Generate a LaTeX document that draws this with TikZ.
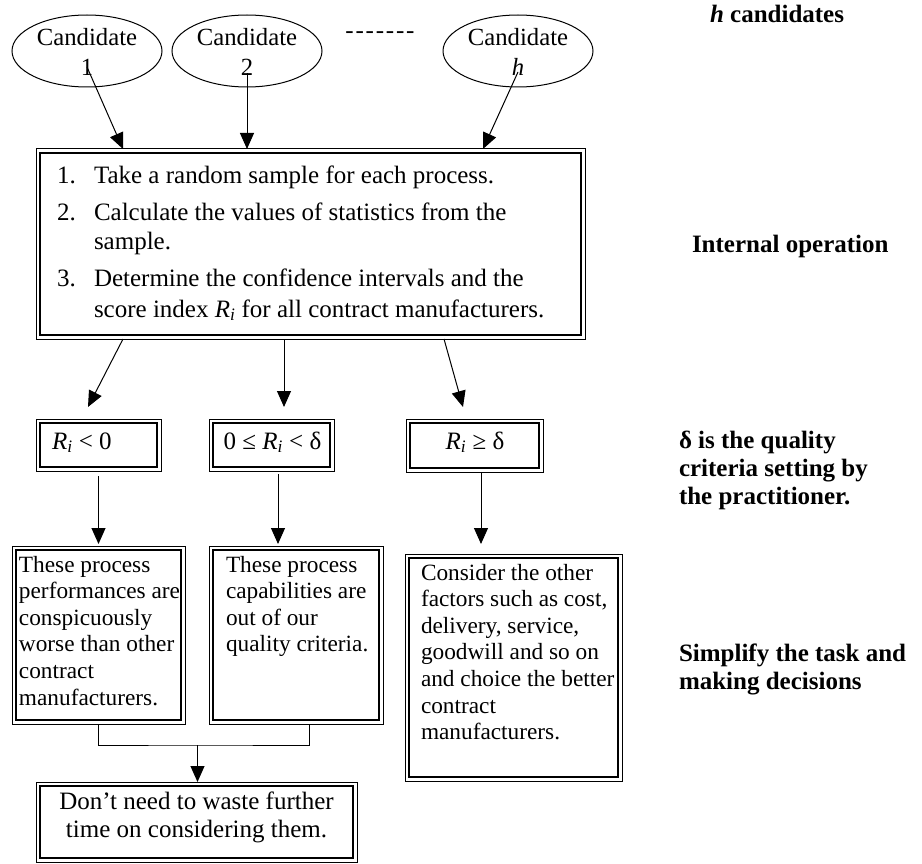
\documentclass[tikz,border=0pt]{standalone}
\usepackage{fontspec}
\setmainfont{Liberation Serif}
\usetikzlibrary{arrows.meta,shapes.geometric,calc}
\begin{document}
\begin{tikzpicture}[x=1pt,y=-1pt,
  every node/.style={inner sep=0pt, outer sep=0pt},
  obox/.style={draw, line width=1pt, rectangle, inner sep=0pt},
  cand/.style={draw, ellipse, line width=1pt, minimum width=150pt, minimum height=72pt, inner sep=0pt},
  ctext/.style={font=\fontsize{24.7}{30}\selectfont, align=center},
  big/.style={font=\fontsize{25}{30}\selectfont},
  mid/.style={font=\fontsize{23.3}{26.6}\selectfont},
  lab/.style={font=\fontsize{25}{28}\selectfont\bfseries, anchor=base west},
  arr/.style={-{Triangle[length=16pt,width=14pt]}, line width=1pt},
  ln/.style={line width=1pt}
]
\useasboundingbox (0,0) rectangle (922,864);

% candidates
\node[cand] (c1) at (87,51) {};
\node[cand] (c2) at (247,51) {};
\node[cand] (c3) at (518,51) {};
\node[ctext] (c1t) at (87,52) {Candidate\\1};
\node[ctext] (c2t) at (247,52) {Candidate\\2};
\node[ctext] (c3t) at (518,52) {Candidate\\\textit{h}};
\node[big, anchor=base] (dash) at (380,39) {-\kern1.8pt-\kern1.8pt-\kern1.8pt-\kern1.8pt-\kern1.8pt-\kern1.8pt-};

% main box
\node[obox, minimum width=549pt, minimum height=190pt] (main) at (310.5,244) {};
\node[big, anchor=base west] (n1) at (57,184) {1.};
\node[big, anchor=base west] (t1) at (94,184) {Take a random sample for each process.};
\node[big, anchor=base west] (n2) at (57,221) {2.};
\node[big, anchor=base west] (t2) at (94,221) {Calculate the values of statistics from the};
\node[big, anchor=base west] (t3) at (94,250) {sample.};
\node[big, anchor=base west] (n3) at (57,287) {3.};
\node[big, anchor=base west] (t4) at (94,287) {Determine the confidence intervals and the};
\node[big, anchor=base west] (t5) at (94,317) {score index \textit{R}\textsubscript{\textit{i}} for all contract manufacturers.};

% condition boxes
\node[obox, minimum width=125pt, minimum height=52pt] (k1) at (98.5,445) {};
\node[obox, minimum width=125pt, minimum height=52pt] (k2) at (271.5,445) {};
\node[obox, minimum width=137pt, minimum height=53pt] (k3) at (474.5,445.5) {};
\node[big, anchor=base west] (k1t) at (52,449) {\textit{R}\textsubscript{\textit{i}} < 0};
\node[big, anchor=base] (k2t) at (272.5,449) {0 ≤ \textit{R}\textsubscript{\textit{i}} < δ};
\node[big, anchor=base] (k3t) at (475,449) {\textit{R}\textsubscript{\textit{i}} ≥ δ};

% result boxes
\node[obox, minimum width=173pt, minimum height=178pt] (ba) at (98.5,635) {};
\node[obox, minimum width=174pt, minimum height=178pt] (bb) at (296,635) {};
\node[obox, minimum width=217pt, minimum height=227pt] (bc) at (513.5,667.5) {};
\node[obox, minimum width=321pt, minimum height=80pt] (bd) at (196.5,822) {};

\foreach \t [count=\i] in {These process, performances are, conspicuously, worse than other, contract, manufacturers.}
  \node[mid, anchor=base west] (a\i) at (19,{572+26.6*(\i-1)}) {\t};
\foreach \t [count=\i] in {These process, capabilities are, out of our, quality criteria.}
  \node[mid, anchor=base west] (b\i) at (226,{572+26.6*(\i-1)}) {\t};
\foreach \t [count=\i] in {Consider the other, {factors such as cost,}, {delivery, service,}, goodwill and so on, and choice the better, contract, manufacturers.}
  \node[mid, anchor=base west] (cc\i) at (421,{580+26.6*(\i-1)}) {\t};
\node[big, anchor=base] (d1) at (196.5,809) {Don’t need to waste further};
\node[big, anchor=base] (d2) at (196.5,837) {time on considering them.};

% inner borders
\foreach \n in {main,k1,k2,k3,ba,bb,bc,bd}
  \draw[line width=1.9pt] ([xshift=4pt,yshift=-4pt]\n.north west) rectangle ([xshift=-4pt,yshift=4pt]\n.south east);

% right labels
\node[lab] (l1) at (710,23) {\textit{h} candidates};
\node[lab] (l2) at (692,253) {Internal operation};
\node[lab] (l3) at (679,448) {δ is the quality};
\node[lab] (l4) at (679,476) {criteria setting by};
\node[lab] (l5) at (679,504) {the practitioner.};
\node[lab] (l6) at (679,661) {Simplify the task and};
\node[lab] (l7) at (679,689) {making decisions};

% arrows top
\draw[arr] ([yshift=-16pt]c1.center) -- ([xshift=87pt]main.north west);
\draw[arr] ([yshift=-22pt]c2.center) -- (c2.center |- main.north);
\draw[arr] ([yshift=-21pt]c3.center) -- ([xshift=447pt]main.north west);

% main to conditions
\draw[arr] ([xshift=87pt]main.south west) -- ([xshift=-10.5pt,yshift=12pt]k1.north);
\draw[arr] ([xshift=248pt]main.south west) -- ([xshift=12.5pt,yshift=12pt]k2.north);
\draw[arr] ([xshift=408pt]main.south west) -- ([xshift=-11.5pt,yshift=12pt]k3.north);

% conditions to results
\draw[arr] ([yshift=-5pt]k1.south) -- ([yshift=2pt]ba.north);
\draw[arr] ([xshift=6.5pt,yshift=-3pt]k2.south) -- ([xshift=69pt,yshift=2pt]bb.north west);
\draw[arr] ([xshift=6.5pt]k3.south) -- ([xshift=76pt,yshift=10pt]bc.north west);

% merge to final
\coordinate (j) at (197.5,745);
\draw[ln] (ba.south) |- (j) -| ([xshift=100pt]bb.south west);
\draw[arr] (j) -- (bd.north -| j);
\end{tikzpicture}
\end{document}
